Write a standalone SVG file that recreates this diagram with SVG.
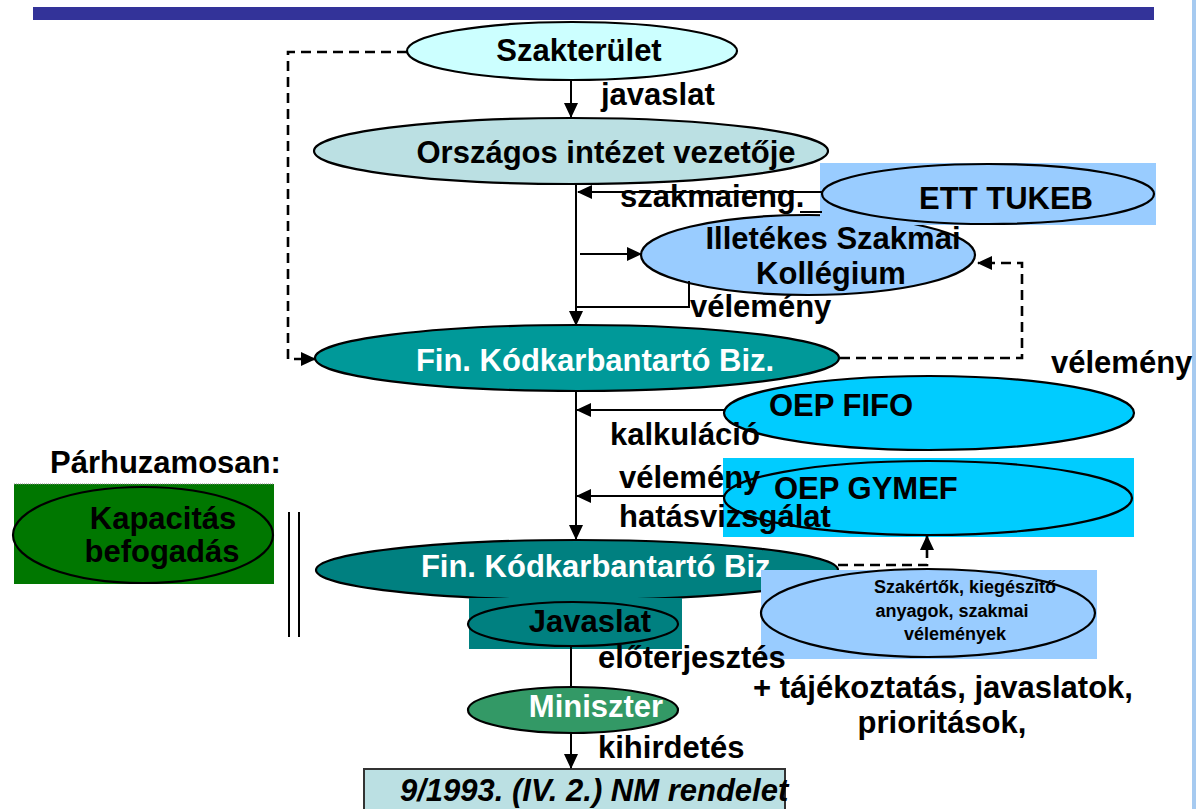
<svg xmlns="http://www.w3.org/2000/svg" width="1196" height="809" viewBox="0 0 1196 809">
<style>
text{font-family:"Liberation Sans",Arial,sans-serif;font-weight:bold;font-size:31px;fill:#000}
.w{fill:#fff}
.m{text-anchor:middle}
.sm{font-size:18px}
.it{font-style:italic}
.node{stroke:#000;stroke-width:2.2}
.c{fill:none;stroke:#000;stroke-width:2}
.d{fill:none;stroke:#000;stroke-width:2.6;stroke-dasharray:10,6}
</style>
<defs>
<marker id="ah" markerWidth="15" markerHeight="14" refX="14" refY="7" orient="auto" markerUnits="userSpaceOnUse"><path d="M0,0 L15,7 L0,14 z" fill="#000"/></marker>
</defs>
<rect x="33" y="7" width="1121" height="13" fill="#333399"/>
<rect x="1192" y="0" width="4" height="809" fill="#A6CAF0"/>

<g id="illetekes">
<ellipse class="node" cx="808" cy="255" rx="167" ry="40" fill="#99CCFF"/>
<text x="833" y="249" class="m">Illetékes Szakmai</text>
<text x="831" y="284" class="m">Kollégium</text>
</g>
<g id="ett-tukeb">
<rect x="820" y="163" width="336" height="62" fill="#99CCFF"/>
<ellipse class="node" cx="988" cy="194" rx="166" ry="30" fill="#99CCFF"/>
<text x="1006" y="209" class="m">ETT TUKEB</text>
</g>
<g id="szakterulet">
<ellipse class="node" cx="572" cy="51" rx="165" ry="29" fill="#CCFFFF"/>
<text x="579" y="61" class="m">Szakterület</text>
</g>
<g id="orszagos">
<ellipse class="node" cx="571" cy="151" rx="257" ry="33" fill="#BBE0E3"/>
<text x="606" y="163" class="m">Országos intézet vezetője</text>
</g>
<g id="fin1">
<ellipse class="node" cx="577" cy="358" rx="262" ry="33" fill="#009999"/>
<text x="595" y="371" class="m w">Fin. Kódkarbantartó Biz.</text>
</g>
<g id="oep-fifo">
<ellipse class="node" cx="929" cy="413" rx="205" ry="37" fill="#00CCFF"/>
<text x="769" y="416">OEP FIFO</text>
</g>
<g id="oep-gymef">
<rect x="723" y="458" width="411" height="79" fill="#00CCFF"/>
<ellipse class="node" cx="928" cy="498" rx="204" ry="37" fill="#00CCFF"/>
<text x="774" y="499">OEP GYMEF</text>
</g>
<g id="fin2">
<ellipse class="node" cx="577" cy="570" rx="261" ry="30" fill="#008080"/>
<text x="600" y="577" class="m w">Fin. Kódkarbantartó Biz.</text>
</g>
<g id="szakertok">
<rect x="761" y="570" width="336" height="89" fill="#99CCFF"/>
<ellipse class="node" cx="928" cy="613" rx="167" ry="44" fill="#99CCFF"/>
<text x="965" y="593" class="m sm">Szakértők, kiegészítő</text>
<text x="952" y="617" class="m sm">anyagok, szakmai</text>
<text x="955" y="640" class="m sm">vélemények</text>
</g>
<g id="javaslat">
<rect x="469" y="598" width="213" height="51" fill="#008080"/>
<ellipse class="node" cx="573" cy="624" rx="105" ry="22" fill="#008080"/>
<text x="590" y="632" class="m">Javaslat</text>
</g>
<g id="miniszter">
<ellipse class="node" cx="573" cy="710" rx="105" ry="23" fill="#339966"/>
<text x="596" y="717" class="m w">Miniszter</text>
</g>
<g id="rendelet">
<rect x="364" y="769" width="421" height="45" fill="#BBE0E3" stroke="#333" stroke-width="2"/>
<text x="400" y="801" class="it">9/1993. (IV. 2.) NM rendelet</text>
</g>
<g id="kapacitas">
<rect x="14" y="484" width="260" height="100" fill="#007700"/>
<line x1="14" y1="484" x2="274" y2="484" stroke="#888" stroke-width="1" stroke-dasharray="1,1"/>
<ellipse class="node" cx="143" cy="535" rx="130" ry="48" fill="#007700"/>
<text x="163" y="529" class="m">Kapacitás</text>
<text x="162" y="562" class="m">befogadás</text>
</g>

<g id="connectors">
<path class="c" d="M571,81 L571,117" marker-end="url(#ah)"/>
<path class="c" d="M576,185 L576,325" marker-end="url(#ah)"/>
<path class="c" d="M822,192 L578,192" marker-end="url(#ah)"/>
<path class="c" d="M800,212 L822,212"/>
<path class="c" d="M580,254 L641,254" marker-end="url(#ah)"/>
<path class="c" d="M689,281 L689,307 L576,307"/>
<path class="d" d="M840,358 L1022,358 L1022,263 L978,263" marker-end="url(#ah)"/>
<path class="d" d="M407,52 L288,52 L288,359 L315,359" marker-end="url(#ah)"/>
<path class="c" d="M576,392 L576,539" marker-end="url(#ah)"/>
<path class="c" d="M724,410 L577,410" marker-end="url(#ah)"/>
<path class="c" d="M724,496 L577,496" marker-end="url(#ah)"/>
<path class="d" d="M838,565 L927,565 L927,536" marker-end="url(#ah)"/>
<path class="c" d="M571,646 L571,687"/>
<path class="c" d="M571,733 L571,768" marker-end="url(#ah)"/>
<path class="c" d="M289,512 L289,637 M299,512 L299,637"/>
</g>

<g id="labels">
<text x="601" y="105">javaslat</text>
<text x="620" y="207">szakmaieng.</text>
<text x="690" y="317">vélemény</text>
<text x="1051" y="373">vélemény</text>
<text x="610" y="445">kalkuláció</text>
<text x="619" y="488">vélemény</text>
<text x="619" y="527">hatásvizsgálat</text>
<text x="598" y="668">előterjesztés</text>
<text x="598" y="758">kihirdetés</text>
<text x="753" y="698">+ tájékoztatás, javaslatok,</text>
<text x="942" y="733" class="m">prioritások,</text>
<text x="50" y="473">Párhuzamosan:</text>
</g>
</svg>
